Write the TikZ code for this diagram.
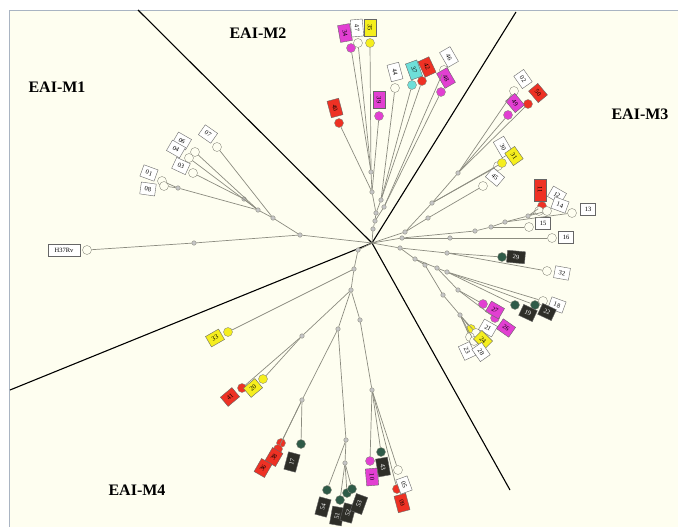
\documentclass[tikz,border=0pt]{standalone}
\usepackage{fontspec}
\setmainfont{Liberation Serif}
\usepackage{xcolor}
\usepackage{tikz}
\definecolor{bgcream}{HTML}{FEFEF0}
\definecolor{framegray}{HTML}{A9B4C2}
\definecolor{branchgray}{HTML}{8C8C80}
\definecolor{tred}{HTML}{EE3124}
\definecolor{tmag}{HTML}{E23FD2}
\definecolor{tyel}{HTML}{F5EE1E}
\definecolor{tcyan}{HTML}{6EDFD9}
\definecolor{tdark}{HTML}{2E2E28}
\definecolor{tgreen}{HTML}{2F5B48}
\tikzset{
  branch/.style={draw=branchgray, line width=0.7pt},
  divide/.style={draw=black, line width=1.1pt},
  knot/.style={circle, draw=branchgray, fill=gray!45, inner sep=0pt,
  minimum size=4.5pt},
  tip/.style={circle, draw=branchgray, fill=#1, inner sep=0pt,
  minimum size=9pt},
  tip/.default=bgcream,
  tag/.style={draw=gray!80!black, fill=#1, inner sep=1pt, minimum width=15pt,
  minimum height=12pt, text centered, font=\fontsize{6.5}{7}\selectfont},
  tag/.default=white,
  darktag/.style={tag=tdark, text=white},
  clade/.style={font=\bfseries\fontsize{16}{16}\selectfont}
}
\begin{document}
\begin{tikzpicture}[x=1pt,y=-1pt]
\useasboundingbox (0,0) rectangle (678,527);
\fill[bgcream] (9,10) rectangle (678,527);
\draw[framegray, line width=0.8pt] (9,527) -- (9,10) -- (678,10);
% clade names
\node[clade] (nM1) at (57,87) {EAI-M1};
\node[clade] (nM2) at (258,33) {EAI-M2};
\node[clade] (nM3) at (640,114) {EAI-M3};
\node[clade] (nM4) at (137,490) {EAI-M4};
% dividing lines
\coordinate (root) at (372,243);
\coordinate (cut1) at (138,10);
\coordinate (cut2) at (516,12);
\coordinate (cut3) at (510,490);
\coordinate (cut4) at (10,390);
\foreach \c in {cut1,cut2,cut3,cut4} \draw[divide] (root) -- (\c);
% EAI-M1
\node[knot] (m1a) at (300,235) {};
\node[knot] (m1b) at (194,243) {};
\node[knot] (m1c) at (273,218) {};
\node[knot] (m1d) at (258,210) {};
\node[knot] (m1e) at (244,199) {};
\node[knot] (m1f) at (178,188) {};
\node[tip] (tH) at (87,250) {};
\node[tip] (t07) at (217,147) {};
\node[tip] (t06) at (195,152) {};
\node[tip] (t04) at (189,158) {};
\node[tip] (t03) at (193,173) {};
\node[tip] (t01) at (162,181) {};
\node[tip] (t08) at (164,186) {};
\node[tag, minimum width=32pt] (gH) at (64,250) {H37Rv};
\node[tag, rotate=-35] (g07) at (208,134) {07};
\node[tag, rotate=-30] (g06) at (182,141) {06};
\node[tag, rotate=-30] (g04) at (176,149) {04};
\node[tag, rotate=-25] (g03) at (181,166) {03};
\node[tag, rotate=-20] (g01) at (149,173) {01};
\node[tag, rotate=-8] (g08) at (148,189) {08};
% EAI-M2
\node[knot] (m2a) at (373,229) {};
\node[knot] (m2b) at (375,221) {};
\node[knot] (m2c) at (376,213) {};
\node[knot] (m2d) at (372,192) {};
\node[knot] (m2e) at (371,172) {};
\node[knot] (m2f) at (381,200) {};
\node[knot] (m2g) at (384,207) {};
\node[tip=tmag] (t34) at (351,48) {};
\node[tip] (t47) at (358,43) {};
\node[tip=tyel] (t35) at (370,43) {};
\node[tip=tred] (t40) at (339,123) {};
\node[tip=tmag] (t39) at (379,116) {};
\node[tip] (t44) at (395,88) {};
\node[tip=tcyan] (t37) at (412,85) {};
\node[tip=tred] (t42) at (422,81) {};
\node[tip] (t46) at (444,70) {};
\node[tip=tmag] (t48) at (441,92) {};
\node[tag=tmag, rotate=-80, minimum width=17pt] (g34) at (345,33) {34};
\node[tag, rotate=-85, minimum width=17pt] (g47) at (357,28) {47};
\node[tag=tyel, rotate=-90, minimum width=17pt] (g35) at (370,28) {35};
\node[tag=tred, rotate=-75, minimum width=17pt] (g40) at (335,108) {40};
\node[tag=tmag, rotate=-90, minimum width=17pt] (g39) at (379,100) {39};
\node[tag, rotate=-75, minimum width=17pt] (g44) at (395,72) {44};
\node[tag=tcyan, rotate=-70, minimum width=17pt] (g37) at (414,70) {37};
\node[tag=tred, rotate=-65, minimum width=17pt] (g42) at (427,67) {42};
\node[tag, rotate=-60, minimum width=17pt] (g46) at (449,57) {46};
\node[tag=tmag, rotate=-60, minimum width=17pt] (g48) at (446,78) {48};
% EAI-M3
\node[knot] (m3u) at (405,232) {};
\node[knot] (m3r) at (428,218) {};
\node[knot] (m3v) at (432,203) {};
\node[knot] (m3w) at (458,173) {};
\node[knot] (m3p) at (402,238) {};
\node[knot] (m3q) at (450,238) {};
\node[knot] (m3s) at (475,231) {};
\node[knot] (m3t) at (491,227) {};
\node[knot] (m3z) at (505,222) {};
\node[knot] (m3k) at (528,216) {};
\node[knot] (m3l) at (400,248) {};
\node[knot] (m3m) at (447,253) {};
\node[knot] (m3n) at (415,259) {};
\node[knot] (m3o) at (437,268) {};
\node[knot] (m3x) at (447,272) {};
\node[knot] (m3j) at (458,290) {};
\node[knot] (m3i) at (425,265) {};
\node[knot] (m3h) at (443,295) {};
\node[knot] (m3g) at (460,315) {};
\node[tip] (t02) at (514,91) {};
\node[tip=tred] (t50) at (528,104) {};
\node[tip=tmag] (t49) at (508,115) {};
\node[tip] (t30) at (498,166) {};
\node[tip=tyel] (t31) at (502,163) {};
\node[tip] (t45) at (483,186) {};
\node[tip=tred] (t11) at (542,206) {};
\node[tip] (t12) at (539,211) {};
\node[tip] (t14) at (547,211) {};
\node[tip] (t13) at (572,213) {};
\node[tip] (t15) at (529,227) {};
\node[tip] (t16) at (552,238) {};
\node[tip=tgreen] (t29) at (502,257) {};
\node[tip] (t32) at (547,271) {};
\node[tip] (t18) at (543,301) {};
\node[tip=tgreen] (t22) at (535,305) {};
\node[tip=tgreen] (t19) at (515,305) {};
\node[tip=tmag] (t27) at (483,304) {};
\node[tip=tmag] (t26) at (495,318) {};
\node[tip=tyel] (t24) at (471,329) {};
\node[tip] (t21) at (476,333) {};
\node[tip] (t23) at (470,337) {};
\node[tip] (t28) at (474,341) {};
\node[tag, rotate=-55] (g02) at (523,79) {02};
\node[tag=tred, rotate=-50] (g50) at (538,93) {50};
\node[tag=tmag, rotate=-50] (g49) at (515,103) {49};
\node[tag, rotate=-60, minimum width=18pt] (g30) at (503,147) {30};
\node[tag=tyel, rotate=-55] (g31) at (514,156) {31};
\node[tag, rotate=-40] (g45) at (495,177) {45};
\node[tag=tred, rotate=-90, minimum width=22pt] (g11) at (540,190) {11};
\node[tag, rotate=-30] (g12) at (557,195) {12};
\node[tag, rotate=-20] (g14) at (560,205) {14};
\node[tag] (g13) at (588,209) {13};
\node[tag] (g15) at (543,223) {15};
\node[tag] (g16) at (566,237) {16};
\node[darktag, rotate=-5, minimum width=18pt] (g29) at (516,257) {29};
\node[tag, rotate=-10] (g32) at (562,273) {32};
\node[tag, rotate=-20] (g18) at (557,305) {18};
\node[darktag, rotate=-25] (g22) at (547,312) {22};
\node[darktag, rotate=-25] (g19) at (528,313) {19};
\node[tag=tmag, rotate=-30] (g27) at (495,310) {27};
\node[tag=tmag, rotate=-35] (g26) at (506,328) {26};
\node[tag, rotate=-30] (g21) at (488,328) {21};
\node[tag=tyel, rotate=-45] (g24) at (483,340) {24};
\node[tag, rotate=-65] (g23) at (467,351) {23};
\node[tag, rotate=-55] (g28) at (481,352) {28};
% EAI-M4
\node[knot] (m4a) at (358,250) {};
\node[knot] (m4b) at (354,269) {};
\node[knot] (m4c) at (351,290) {};
\node[knot] (m4e) at (302,336) {};
\node[knot] (m4d) at (338,329) {};
\node[knot] (m4f) at (302,400) {};
\node[knot] (m4g) at (346,440) {};
\node[knot] (m4h) at (345,463) {};
\node[knot] (m4i) at (360,320) {};
\node[knot] (m4j) at (372,390) {};
\node[tip=tyel] (t33) at (228,332) {};
\node[tip=tred] (t41) at (242,388) {};
\node[tip=tyel] (t20) at (263,379) {};
\node[tip=tred] (t38) at (281,443) {};
\node[tip=tred] (t36) at (278,449) {};
\node[tip=tgreen] (t17) at (301,444) {};
\node[tip=tmag] (t10) at (370,461) {};
\node[tip=tgreen] (t43) at (381,452) {};
\node[tip] (t05) at (398,470) {};
\node[tip=tred] (t09) at (397,489) {};
\node[tip=tgreen] (t54) at (327,490) {};
\node[tip=tgreen] (t51) at (340,500) {};
\node[tip=tgreen] (t52) at (347,493) {};
\node[tip=tgreen] (t53) at (352,489) {};
\node[tag=tyel, rotate=30] (g33) at (215,338) {33};
\node[tag=tred, rotate=40] (g41) at (230,397) {41};
\node[tag=tyel, rotate=40] (g20) at (253,388) {20};
\node[tag=tred, rotate=60] (g38) at (274,457) {38};
\node[tag=tred, rotate=60] (g36) at (263,468) {36};
\node[darktag, rotate=75, minimum width=18pt] (g17) at (292,462) {17};
\node[tag=tmag, rotate=-85, minimum width=17pt] (g10) at (372,477) {10};
\node[darktag, rotate=-80, minimum width=18pt] (g43) at (383,467) {43};
\node[tag, rotate=-70] (g05) at (404,485) {05};
\node[tag=tred, rotate=-75, minimum width=17pt] (g09) at (402,503) {09};
\node[darktag, rotate=75, minimum width=18pt] (g54) at (323,507) {54};
\node[darktag, rotate=80, minimum width=18pt] (g51) at (337,516) {51};
\node[darktag, rotate=75, minimum width=18pt] (g52) at (348,513) {52};
\node[darktag, rotate=70, minimum width=18pt] (g53) at (359,504) {53};
% branches
\foreach \a/\b in {root/m1a, m1a/m1b, m1b/tH, m1a/m1c, m1c/t07, m1c/m1d,
  m1d/t06, m1d/t04, m1d/m1e, m1e/t03, m1d/m1f, m1f/t01, m1f/t08,
  root/m2a, m2a/m2b, m2b/m2c, m2c/m2d, m2d/m2e, m2e/t34, m2e/t47, m2e/t35,
  m2d/t40, m2d/t39, m2c/m2f, m2f/t44, m2f/t37, m2f/t42, m2b/m2g, m2g/t46,
  m2g/t48,
  root/m3u, m3u/m3r, m3r/t45, m3u/m3v, m3v/m3w, m3w/t02, m3w/t50, m3w/t49,
  m3v/t31, m3v/t30, root/m3p, m3p/m3q, m3q/t16, m3p/m3s, m3s/m3t, m3t/t15,
  m3t/m3z, m3z/t13, m3z/m3k, m3k/t11, m3k/t12, m3k/t14, root/m3l, m3l/m3m,
  m3m/t29, m3m/t32, m3l/m3n, m3n/m3o, m3o/m3x, m3x/t18, m3x/t22, m3x/t19,
  m3o/m3j, m3j/t27, m3j/t26, m3n/m3i, m3i/m3h, m3h/m3g, m3g/t24, m3g/t21,
  m3g/t23, m3g/t28,
  root/m4a, m4a/m4b, m4b/t33, m4b/m4c, m4c/m4e, m4e/t41, m4e/t20, m4c/m4d,
  m4d/m4f, m4f/t38, m4f/t36, m4f/t17, m4d/m4g, m4g/t54, m4g/m4h, m4h/t51,
  m4h/t52, m4h/t53, m4c/m4i, m4i/m4j, m4j/t10, m4j/t43, m4j/t05, m4j/t09}
  \draw[branch] (\a) -- (\b);
\end{tikzpicture}
\end{document}
